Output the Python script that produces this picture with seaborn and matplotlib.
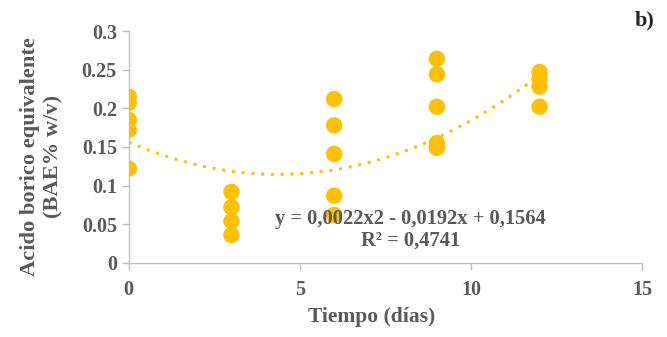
import numpy as np
import pandas as pd
import seaborn as sns
import matplotlib.pyplot as plt

# Datos
tiempo = [0, 0, 0, 0, 0,
          3, 3, 3, 3,
          6, 6, 6, 6, 6,
          9, 9, 9, 9, 9,
          12, 12, 12, 12]
bae = [0.215, 0.207, 0.185, 0.172, 0.122,
       0.092, 0.072, 0.054, 0.036,
       0.212, 0.178, 0.141, 0.087, 0.062,
       0.264, 0.244, 0.202, 0.155, 0.149,
       0.247, 0.238, 0.228, 0.202]

# Coeficientes de la linea de tendencia (polinomica de orden 2)
coef = [0.0022, -0.0192, 0.1564]
r2 = "0,4741"

df = pd.DataFrame({"Tiempo": tiempo, "BAE": bae})

sns.set_style("white")
plt.rcParams['font.family'] = ['Liberation Serif', 'DejaVu Serif']
gris = "#595959"
amarillo = "#FFC000"

fig = plt.figure(figsize=(6.67, 3.37), dpi=100)
ax = fig.add_axes([0.193, 0.22, 0.77, 0.688])

sns.scatterplot(data=df, x="Tiempo", y="BAE", color=amarillo, s=140,
                edgecolor="none", ax=ax, zorder=3)

xs = np.linspace(0, 12, 100)
ax.plot(xs, np.polyval(coef, xs), linestyle=(0, (1, 2.2)), color=amarillo,
        linewidth=2.2, zorder=2)

ax.set_xlim(0, 15)
ax.set_ylim(0, 0.3)
ax.set_xticks([0, 5, 10, 15])
ax.set_yticks([0, 0.05, 0.1, 0.15, 0.2, 0.25, 0.3])
ax.set_yticklabels(["0", "0.05", "0.1", "0.15", "0.2", "0.25", "0.3"])

for s in ["top", "right"]:
    ax.spines[s].set_visible(False)
for s in ["left", "bottom"]:
    ax.spines[s].set_color("#BFBFBF")
    ax.spines[s].set_linewidth(1)
ax.tick_params(axis="both", length=5, width=1, color="#BFBFBF",
               labelcolor=gris, labelsize=14.5, direction="out",
               bottom=True, left=True)
ax.tick_params(axis="x", pad=7)
for lbl in ax.get_xticklabels() + ax.get_yticklabels():
    lbl.set_fontweight("bold")

ax.set_xlabel("Tiempo (días)", fontsize=15.5, fontweight="bold", color=gris)
ax.xaxis.set_label_coords(0.472, -0.19)
ax.set_ylabel("Acido borico equivalente\n(BAE% w/v)", fontsize=16.2,
              fontweight="bold", color=gris, linespacing=1.2)
ax.yaxis.set_label_coords(-0.128, 0.457)

ax.text(0.548, 0.144, "y = 0,0022x2 - 0,0192x + 0,1564\nR² = " + r2,
        transform=ax.transAxes, ha="center", va="center", fontsize=14.8,
        fontweight="bold", color=gris, linespacing=1.1)
fig.text(0.982, 0.94, "b)", ha="right", va="center", fontsize=16,
         fontweight="bold", color="#262626")

fig.savefig("out.png", dpi=100)
